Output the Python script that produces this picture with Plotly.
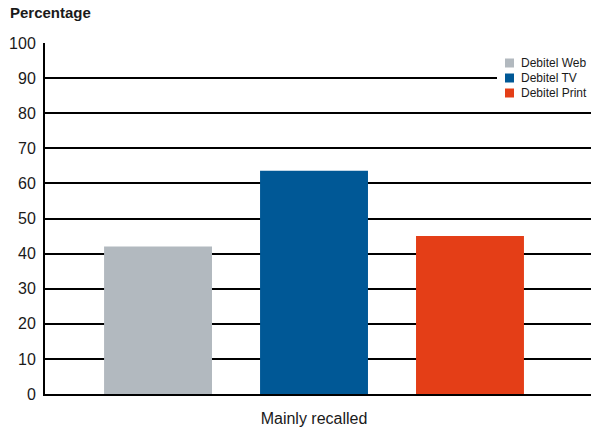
import plotly.graph_objects as go

# Share of respondents who mainly recalled each Debitel campaign
categories = ["Mainly recalled"]
series_names = ["Debitel Web", "Debitel TV", "Debitel Print"]
web_values = [42.0]
tv_values = [63.6]
print_values = [45.0]
y_ticks = [0, 10, 20, 30, 40, 50, 60, 70, 80, 90, 100]

colors = ["#b2b9bf", "#005896", "#e43e17"]
font_family = "Liberation Sans, Arial, sans-serif"
text_color = "#1a1a1a"

fig = go.Figure()
for name, vals, col in zip(series_names, [web_values, tv_values, print_values], colors):
    fig.add_trace(go.Bar(
        x=categories, y=vals, name=name,
        marker=dict(color=col, line=dict(width=0)),
        hoverinfo="y+name", showlegend=False,
    ))

# Compact legend in the top-right corner: white panel, small swatches, labels
shapes = [dict(
    type="rect", xref="paper", yref="paper",
    xsizemode="pixel", ysizemode="pixel", xanchor=1, yanchor=1,
    x0=-94, x1=2, y0=-59, y1=-11,
    fillcolor="white", line=dict(width=0), layer="above",
)]
annotations = []
row_offsets = [20, 35, 50]  # pixels below the top of the plot area
for name, col, off in zip(series_names, colors, row_offsets):
    shapes.append(dict(
        type="rect", xref="paper", yref="paper",
        xsizemode="pixel", ysizemode="pixel", xanchor=1, yanchor=1,
        x0=-86, x1=-77, y0=-(off + 4.5), y1=-(off - 4.5),
        fillcolor=col, line=dict(width=0), layer="above",
    ))
    annotations.append(dict(
        text=name, xref="paper", yref="paper", x=1, y=1,
        xanchor="left", yanchor="middle", xshift=-72, yshift=-off,
        showarrow=False, font=dict(size=12, color=text_color),
    ))

annotations.append(dict(
    text="<b>Percentage</b>", xref="paper", yref="paper",
    x=0, y=1, xanchor="left", yanchor="bottom",
    xshift=-37, yshift=20, showarrow=False,
    font=dict(size=15, color=text_color),
))

fig.update_layout(
    width=591, height=430,
    margin=dict(l=45, r=0, t=43, b=36),
    paper_bgcolor="white", plot_bgcolor="white",
    barmode="group", bargap=0.143, bargroupgap=0.308,
    font=dict(family=font_family, color=text_color),
    showlegend=False,
    shapes=shapes,
    annotations=annotations,
)

fig.update_xaxes(
    type="category", range=[-0.4927, 0.5073], automargin=False,
    showline=True, linecolor="black", linewidth=2, layer="below traces",
    showgrid=False, ticks="", ticklabelstandoff=9,
    tickfont=dict(size=16, color=text_color),
)
fig.update_yaxes(
    range=[0, 100], tickvals=y_ticks, ticktext=[str(v) for v in y_ticks],
    automargin=False,
    showline=True, linecolor="black", linewidth=2,
    showgrid=True, gridcolor="black", gridwidth=2,
    zeroline=False, ticks="", ticklabelstandoff=4,
    tickfont=dict(size=16, color=text_color),
)

fig.write_html("out.html")
